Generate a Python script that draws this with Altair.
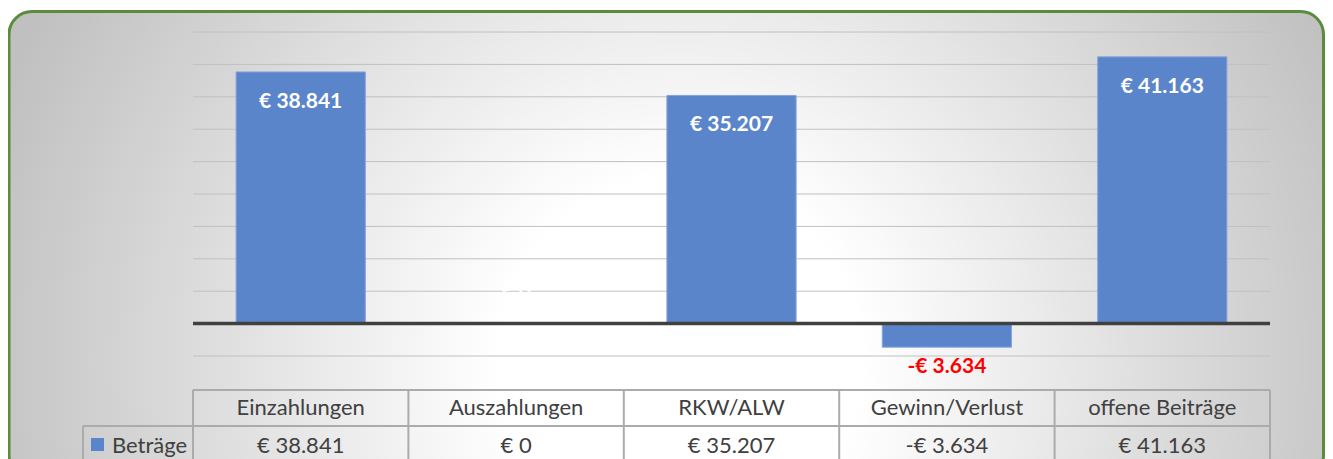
import altair as alt
import pandas as pd

# ---- data ----
categories = ["Einzahlungen", "Auszahlungen", "RKW/ALW", "Gewinn/Verlust", "offene Beiträge"]
values = [38841, 0, 35207, -3634, 41163]
series_name = "Beträge"
y_ticks = [-5000, 0, 5000, 10000, 15000, 20000, 25000, 30000, 35000, 40000, 45000]


def fmt(v):
    s = f"{abs(v):,}".replace(",", ".")
    return ("-€ " if v < 0 else "€ ") + s


df = pd.DataFrame({"cat": categories, "value": values, "label": [fmt(v) for v in values]})
ticks_df = pd.DataFrame({"tick": y_ticks})
zero_df = pd.DataFrame({"tick": [0]})
one = pd.DataFrame({"d": [0]})
last_df = df.tail(1)

W, H = 1077, 324
FONT = "Lato"
TXT = "#404040"
LINE = "#ababab"

xs = alt.Scale(domain=categories, paddingInner=0, paddingOuter=0)
ys = alt.Scale(domain=[-5000, 45000], nice=False, zero=False)
X = alt.X("cat:N", scale=xs, axis=None, sort=categories)
Y = alt.Y("value:Q", scale=ys, axis=None)

gradient = alt.RadialGradient(
    gradient="radial",
    x1=0.5105, y1=0.588, r1=0,
    x2=0.5105, y2=0.588, r2=0.553,
    stops=[
        alt.GradientStop(offset=0, color="#ffffff"),
        alt.GradientStop(offset=0.25, color="#ffffff"),
        alt.GradientStop(offset=1, color="#c0c0c0"),
    ],
)

frame = alt.Chart(one).mark_rect(
    cornerRadius=23, fill=gradient, stroke="#5B8C3B", strokeWidth=3
).encode(x=alt.value(-184), x2=alt.value(1130.5), y=alt.value(-20.5), y2=alt.value(446))

grid = alt.Chart(ticks_df).mark_rule(color="#c0c0c0", strokeWidth=1).encode(
    y=alt.Y("tick:Q", scale=ys, axis=None), x=alt.value(0), x2=alt.value(W)
)

bars = alt.Chart(df).mark_bar(
    width=alt.RelativeBandSize(0.6), color="#5B85CA", stroke="#87A4DA", strokeWidth=1
).encode(x=X, y=Y)

zero_line = alt.Chart(zero_df).mark_rule(color="#404040", strokeWidth=3.5).encode(
    y=alt.Y("tick:Q", scale=ys, axis=None), x=alt.value(0), x2=alt.value(W)
)

lab_pos = alt.Chart(df).transform_filter(alt.datum.value > 0).mark_text(
    font=FONT, fontSize=21, fontWeight="bold", color="white", baseline="alphabetic", dy=36
).encode(x=X, y=Y, text="label:N")

lab_zero = alt.Chart(df).transform_filter(alt.datum.value == 0).mark_text(
    font=FONT, fontSize=21, fontWeight="bold", color="white", baseline="alphabetic", dy=-27
).encode(x=X, y=Y, text="label:N")

lab_neg = alt.Chart(df).transform_filter(alt.datum.value < 0).mark_text(
    font=FONT, fontSize=21, fontWeight="bold", color="#FF0000", baseline="alphabetic", dy=26
).encode(x=X, y=Y, text="label:N")

# ---- data table below the plot ----
hline_top = alt.Chart(one).mark_rule(color=LINE, strokeWidth=2).encode(
    x=alt.value(0), x2=alt.value(W), y=alt.value(358)
)
hline_mid = alt.Chart(one).mark_rule(color=LINE, strokeWidth=2).encode(
    x=alt.value(-110), x2=alt.value(W), y=alt.value(394)
)
vlines = alt.Chart(df).mark_rule(color=LINE, strokeWidth=2).encode(
    x=alt.X("cat:N", scale=xs, axis=None, sort=categories, bandPosition=0),
    y=alt.value(358), y2=alt.value(440)
)
vline_last = alt.Chart(last_df).mark_rule(color=LINE, strokeWidth=2).encode(
    x=alt.X("cat:N", scale=xs, axis=None, sort=categories, bandPosition=1),
    y=alt.value(358), y2=alt.value(440)
)
vline_left = alt.Chart(one).mark_rule(color=LINE, strokeWidth=2).encode(
    x=alt.value(-110), y=alt.value(394), y2=alt.value(440)
)

head_text = alt.Chart(df).mark_text(
    font=FONT, fontSize=22, color=TXT, baseline="alphabetic"
).encode(x=X, y=alt.value(383), text="cat:N")

val_text = alt.Chart(df).mark_text(
    font=FONT, fontSize=22, color=TXT, baseline="alphabetic"
).encode(x=X, y=alt.value(421), text="label:N")

series_df = pd.DataFrame({"name": [series_name]})
legend_sq = alt.Chart(series_df).mark_rect(color="#5B85CA").encode(
    x=alt.value(-102), x2=alt.value(-89), y=alt.value(406), y2=alt.value(419)
)
legend_txt = alt.Chart(series_df).mark_text(
    font=FONT, fontSize=22, color=TXT, baseline="alphabetic", align="left"
).encode(x=alt.value(-81), y=alt.value(421), text="name:N")

chart = alt.layer(
    frame, grid, bars, zero_line, lab_pos, lab_zero, lab_neg,
    hline_top, hline_mid, vlines, vline_last, vline_left,
    head_text, val_text, legend_sq, legend_txt,
).properties(
    width=W, height=H,
    autosize=alt.AutoSizeParams(type="none"),
    padding={"left": 185, "top": 24, "right": 55, "bottom": 103},
    background="white",
).configure_view(stroke=None)

chart.save("out.html", embed_options={"renderer": "svg", "actions": False})
